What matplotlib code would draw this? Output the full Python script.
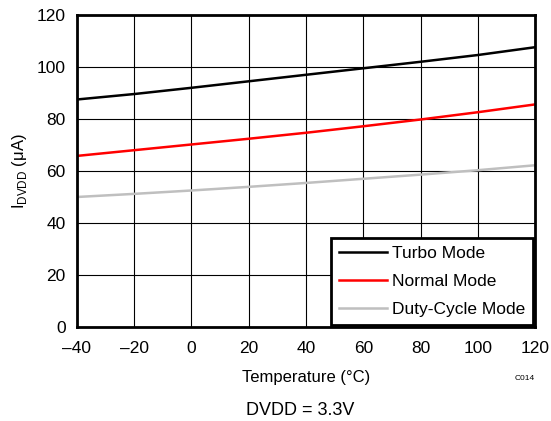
import matplotlib
matplotlib.use("Agg")
import matplotlib.pyplot as plt

plt.rcParams["font.family"] = ["Liberation Sans", "DejaVu Sans"]

# data
temps = [-40, -20, 0, 20, 40, 60, 80, 100, 120]
turbo = [87.5, 89.6, 92.0, 94.5, 97.0, 99.5, 102.0, 104.6, 107.6]
normal = [65.8, 68.0, 70.2, 72.4, 74.7, 77.2, 79.8, 82.6, 85.6]
duty = [50.0, 51.2, 52.5, 53.9, 55.4, 57.0, 58.6, 60.3, 62.2]
xticks = [-40, -20, 0, 20, 40, 60, 80, 100, 120]
xtick_labels = ["\u201340", "\u201320", "0", "20", "40", "60", "80", "100", "120"]
yticks = [0, 20, 40, 60, 80, 100, 120]

fig = plt.figure(figsize=(5.51, 4.21), dpi=100)
ax = fig.add_axes([0.1397, 0.2233, 0.8313, 0.7411])

ax.plot(temps, turbo, color="black", lw=1.8, label="Turbo Mode")
ax.plot(temps, normal, color="#ff0000", lw=1.8, label="Normal Mode")
ax.plot(temps, duty, color="#bfbfbf", lw=1.8, label="Duty-Cycle Mode")

ax.set_xlim(-40, 120)
ax.set_ylim(0, 120)
ax.set_xticks(xticks)
ax.set_xticklabels(xtick_labels)
ax.set_yticks(yticks)
ax.tick_params(length=0, labelsize=12.5)
ax.tick_params(axis="x", pad=10)
ax.tick_params(axis="y", pad=8)
ax.grid(True, color="black", lw=0.8)
for s in ax.spines.values():
    s.set_linewidth(2)

ax.set_xlabel("Temperature (\u00b0C)", fontsize=12, labelpad=10)
ax.set_ylabel(r"I$_{\mathregular{DVDD}}$ ($\mathregular{\mu}$A)", fontsize=12, labelpad=6)

leg = ax.legend(loc="lower right", fontsize=12.5, frameon=True, fancybox=False,
                borderaxespad=0.1, handlelength=2.75, handletextpad=0.3,
                labelspacing=0.75, borderpad=0.45)
leg.get_frame().set_edgecolor("black")
leg.get_frame().set_linewidth(2)
leg.get_frame().set_alpha(1)

fig.text(0.953, 0.102, "C014", fontsize=6, ha="center", va="center")
fig.text(0.545, 0.024, "DVDD = 3.3V", fontsize=13, ha="center", va="center")

fig.savefig("out.png", dpi=100)
